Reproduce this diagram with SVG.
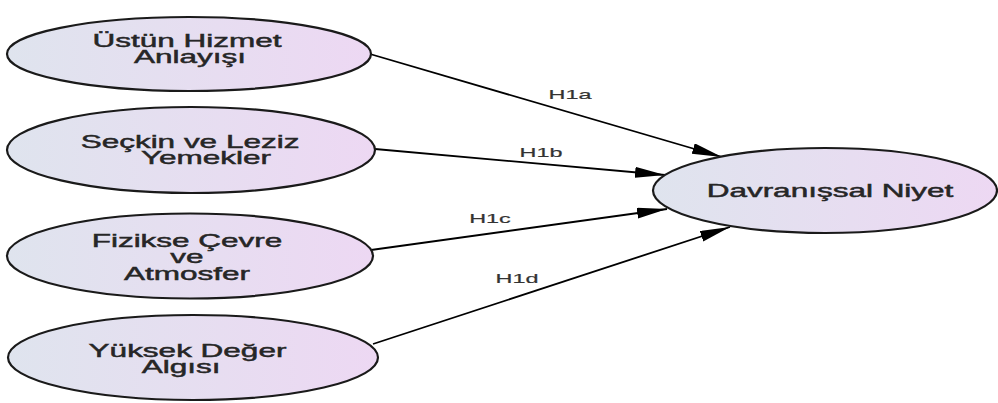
<svg xmlns="http://www.w3.org/2000/svg" width="998" height="403" viewBox="0 0 998 403">
  <defs>
    <linearGradient id="nodeFill" x1="0" y1="0" x2="1" y2="0">
      <stop offset="0" stop-color="#dfe4ee"/>
      <stop offset="1" stop-color="#edd8f3"/>
    </linearGradient>
    <marker id="arrow" markerUnits="userSpaceOnUse" markerWidth="32" markerHeight="12" refX="30" refY="5.5" orient="auto">
      <path d="M0,0 L30,5.5 L0,11 Z" fill="#000"/>
    </marker>
  </defs>
  <style>
    .node { fill: url(#nodeFill); stroke: #1a1a1a; stroke-width: 2.2; }
    .nt { font-family: "Liberation Sans", Arial, sans-serif; font-size: 17.5px; fill: #262626; text-anchor: middle; stroke: #262626; stroke-width: 0.45; }
    .lbl { font-family: "Liberation Sans", Arial, sans-serif; font-size: 13px; fill: #333; text-anchor: middle; stroke: #333; stroke-width: 0.2; }
    .edge { stroke: #000; stroke-width: 1.8; fill: none; marker-end: url(#arrow); }
  </style>
  <rect width="998" height="403" fill="#fff"/>

  <g id="connectors">
    <line class="edge" x1="370" y1="54" x2="722" y2="157"/>
    <line class="edge" x1="375" y1="149" x2="665" y2="175"/>
    <line class="edge" x1="371" y1="250" x2="667" y2="209"/>
    <line class="edge" x1="373" y1="344" x2="730" y2="227"/>
    <text class="lbl" transform="translate(570,99) scale(1.8,1)">H1a</text>
    <text class="lbl" transform="translate(541,157) scale(1.8,1)">H1b</text>
    <text class="lbl" transform="translate(490,223) scale(1.8,1)">H1c</text>
    <text class="lbl" transform="translate(517,283) scale(1.8,1)">H1d</text>
  </g>

  <g id="node-ustun">
    <ellipse class="node" cx="189" cy="54" rx="182" ry="37"/>
    <text class="nt" transform="translate(187,47) scale(1.8,1)">Üstün Hizmet</text>
    <text class="nt" transform="translate(190,63) scale(1.8,1)">Anlayışı</text>
  </g>

  <g id="node-seckin">
    <ellipse class="node" cx="191" cy="150" rx="184" ry="43"/>
    <text class="nt" transform="translate(190,148) scale(1.8,1)">Seçkin ve Leziz</text>
    <text class="nt" transform="translate(206,164) scale(1.8,1)">Yemekler</text>
  </g>

  <g id="node-fizikse">
    <ellipse class="node" cx="190" cy="256" rx="183" ry="42.5"/>
    <text class="nt" transform="translate(187,247) scale(1.8,1)">Fizikse Çevre</text>
    <text class="nt" transform="translate(187,263) scale(1.8,1)">ve</text>
    <text class="nt" transform="translate(187,280) scale(1.8,1)">Atmosfer</text>
  </g>

  <g id="node-yuksek">
    <ellipse class="node" cx="193" cy="357.5" rx="185" ry="42.5"/>
    <text class="nt" transform="translate(187.5,357) scale(1.8,1)">Yüksek Değer</text>
    <text class="nt" transform="translate(181,373) scale(1.8,1)">Algısı</text>
  </g>

  <g id="node-davranissal">
    <ellipse class="node" cx="825" cy="190.5" rx="172" ry="42.5"/>
    <text class="nt" transform="translate(830,197) scale(1.8,1)">Davranışsal Niyet</text>
  </g>
</svg>
